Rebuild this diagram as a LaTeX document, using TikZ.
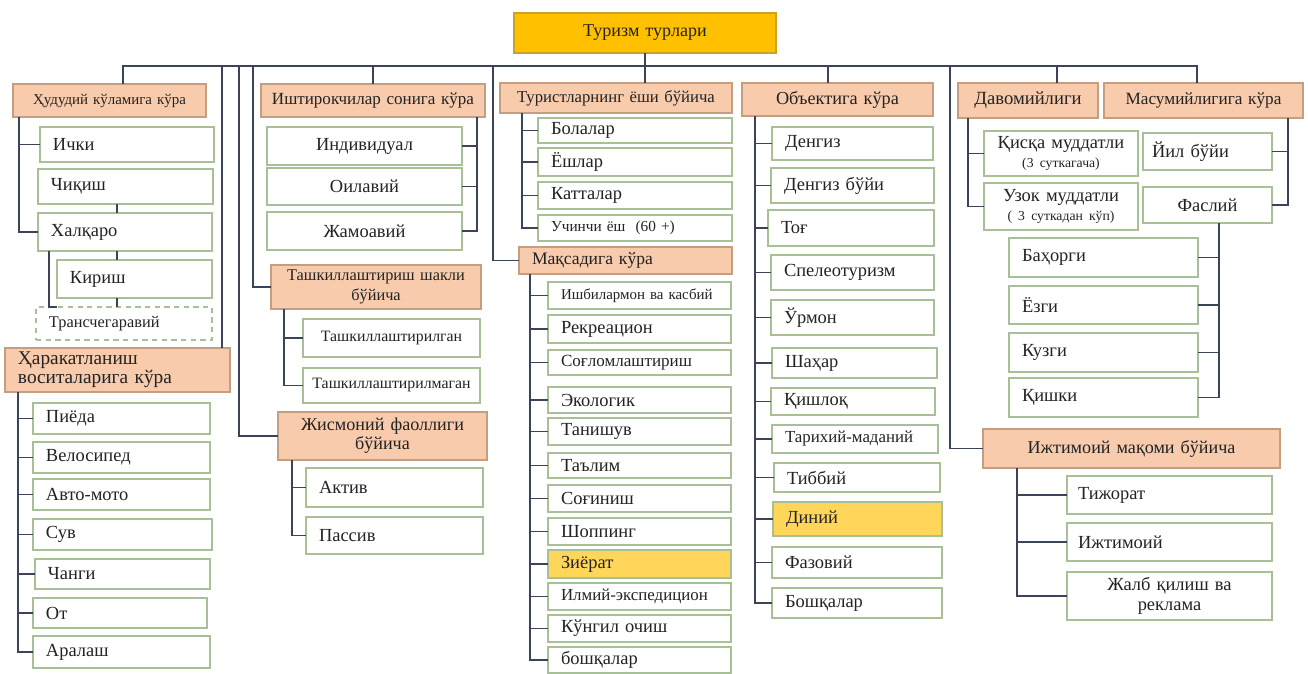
\documentclass[tikz,border=0pt]{standalone}
\usepackage{fontspec}
\setmainfont{Liberation Serif}
\definecolor{topfill}{RGB}{255,192,0}
\definecolor{topdraw}{RGB}{205,160,40}
\definecolor{catfill}{RGB}{247,203,172}
\definecolor{catdraw}{RGB}{196,158,128}
\definecolor{itemdraw}{RGB}{168,192,150}
\definecolor{goldfill}{RGB}{255,214,90}
\definecolor{linkcol}{RGB}{58,68,88}
\definecolor{txt}{RGB}{35,35,35}

\begin{document}
\begin{tikzpicture}[x=0.02cm,y=-0.02cm,
  every node/.style={font=\fontsize{10.5}{11}\selectfont,text=txt,inner ysep=0pt,outer sep=0pt},
  box/.style 2 args={anchor=north west,inner xsep=0.26cm,text width=(#1-26)*0.02cm,minimum height=#2*0.02cm,align=left},
  cbox/.style 2 args={anchor=north west,inner xsep=0.08cm,text width=(#1-8)*0.02cm,minimum height=#2*0.02cm,align=center},
  fs/.style={font=\fontsize{#1}{11}\selectfont},
  top/.style={draw=topdraw,fill=topfill,line width=0.7pt},
  cat/.style={draw=catdraw,fill=catfill,line width=0.7pt,fs=10},
  item/.style={draw=itemdraw,fill=white,line width=0.7pt},
  gold/.style={item,fill=goldfill},
  link/.style={draw=linkcol,line width=1.1pt}]
  \useasboundingbox (0,0) rectangle (1308,673);

  \node[top,cbox={262}{40},fs=10.3] (tur) at (514,13) {Туризм турлари};

  \node[cat,cbox={193}{33},fs=8.5] (hud) at (13,84) {Ҳудудий кўламига кўра};
  \node[item,box={174}{35}] (ichki) at (40,127) {Ички};
  \node[item,box={175}{35}] (chiqish) at (38,169) {Чиқиш};
  \node[item,box={174}{38}] (halqaro) at (38,213) {Халқаро};
  \node[item,box={155}{38}] (kirish) at (57,260) {Кириш};
  \node[item,box={176}{33},fs=9.3,dashed,dash pattern=on 3pt off 2.5pt] (trans) at (36,307) {Трансчегаравий};
  \node[cat,box={225}{44},fs=11] (harak) at (5,348) {Ҳаракатланиш\\воситаларига кўра};
  \node[item,box={177}{31}] (pieda) at (33,403) {Пиёда};
  \node[item,box={177}{31}] (velo) at (33,442) {Велосипед};
  \node[item,box={177}{31}] (avto) at (33,479) {Авто-мото};
  \node[item,box={179}{31}] (suv) at (33,519) {Сув};
  \node[item,box={175}{30}] (changi) at (35,559) {Чанги};
  \node[item,box={174}{30}] (ot) at (33,598) {От};
  \node[item,box={177}{32}] (aralash) at (33,636) {Аралаш};

  \node[cat,cbox={224}{33},fs=9.7] (isht) at (261,84) {Иштирокчилар сонига кўра};
  \node[item,cbox={195}{38}] (indiv) at (267,127) {Индивидуал};
  \node[item,cbox={195}{37}] (oil) at (267,168) {Оилавий};
  \node[item,cbox={195}{38}] (jamo) at (267,212) {Жамоавий};
  \node[cat,cbox={210}{44},fs=9.3] (tashk) at (271,265) {Ташкиллаштириш шакли\\бўйича};
  \node[item,cbox={177}{38},fs=9] (tashk1) at (303,319) {Ташкиллаштирилган};
  \node[item,cbox={177}{35},fs=9] (tashk2) at (303,368) {Ташкиллаштирилмаган};
  \node[cat,cbox={209}{48},fs=10.3] (jism) at (278,412) {Жисмоний фаоллиги\\бўйича};
  \node[item,box={177}{39}] (aktiv) at (306,468) {Актив};
  \node[item,box={177}{37}] (passiv) at (306,517) {Пассив};

  \node[cat,cbox={232}{30},fs=9.5] (yosh) at (500,83) {Туристларнинг ёши бўйича};
  \node[item,box={194}{25}] (bolalar) at (538,118) {Болалар};
  \node[item,box={194}{28}] (yoshlar) at (538,148) {Ёшлар};
  \node[item,box={194}{27}] (kattalar) at (538,182) {Катталар};
  \node[item,box={194}{26},fs=8.7] (uchinchi) at (538,215) {Учинчи ёш~~(60 +)};
  \node[cat,box={213}{27}] (maqsad) at (519,247) {Мақсадига кўра};
  \node[item,box={183}{27},fs=8.5] (ishbil) at (548,282) {Ишбилармон ва касбий};
  \node[item,box={183}{28}] (rekr) at (548,315) {Рекреацион};
  \node[item,box={183}{25},fs=9.7] (soglom) at (548,350) {Соғломлаштириш};
  \node[item,box={183}{26}] (ekol) at (548,387) {Экологик};
  \node[item,box={183}{27}] (tanish) at (548,418) {Танишув};
  \node[item,box={183}{25}] (talim) at (548,453) {Таълим};
  \node[item,box={183}{27}] (sogin) at (548,485) {Соғиниш};
  \node[item,box={183}{27}] (shop) at (548,518) {Шоппинг};
  \node[gold,box={183}{28}] (ziyor) at (548,550) {Зиёрат};
  \node[item,box={183}{27},fs=9.6] (ilmiy) at (548,583) {Илмий-экспедицион};
  \node[item,box={183}{27}] (kungil) at (548,615) {Кўнгил очиш};
  \node[item,box={183}{26}] (boshq) at (548,647) {бошқалар};

  \node[cat,cbox={191}{33},fs=10.4] (obyekt) at (742,83) {Объектига кўра};
  \node[item,box={161}{33}] (dengiz) at (772,127) {Денгиз};
  \node[item,box={163}{35}] (dengizb) at (771,168) {Денгиз бўйи};
  \node[item,box={166}{36}] (tog) at (768,210) {Тоғ};
  \node[item,box={163}{35}] (speleo) at (771,255) {Спелеотуризм};
  \node[item,box={163}{35}] (urmon) at (771,300) {Ўрмон};
  \node[item,box={165}{30}] (shahar) at (772,348) {Шаҳар};
  \node[item,box={164}{27}] (qishloq) at (771,388) {Қишлоқ};
  \node[item,box={166}{28},fs=9.6] (tarix) at (772,425) {Тарихий-маданий};
  \node[item,box={166}{29}] (tibbiy) at (774,463) {Тиббий};
  \node[gold,box={169}{34}] (diniy) at (773,502) {Диний};
  \node[item,box={170}{31}] (fazo) at (772,547) {Фазовий};
  \node[item,box={170}{30}] (boshqa) at (772,588) {Бошқалар};

  \node[cat,cbox={140}{35},fs=10.6] (davom) at (958,83) {Давомийлиги};
  \node[cat,cbox={199}{35},fs=9.8] (mavs) at (1104,83) {Масумийлигига кўра};
  \node[item,cbox={154}{45}] (qisqa) at (984,131) {Қисқа муддатли\\{\fontsize{7.8}{9}\selectfont(3 суткагача)}};
  \node[item,cbox={154}{47}] (uzoq) at (984,183) {Узок муддатли\\{\fontsize{7.8}{9}\selectfont( 3 суткадан кўп)}};
  \node[item,box={129}{37},inner xsep=0.18cm,text width=111*0.02cm] (yil) at (1143,133) {Йил бўйи};
  \node[item,cbox={129}{36}] (fasl) at (1143,187) {Фаслий};
  \node[item,box={189}{39}] (bahor) at (1009,238) {Баҳорги};
  \node[item,box={189}{38}] (yoz) at (1009,286) {Ёзги};
  \node[item,box={189}{39}] (kuz) at (1009,333) {Кузги};
  \node[item,box={189}{39}] (qish) at (1009,378) {Қишки};
  \node[cat,cbox={297}{39},fs=10.3] (ijt) at (983,429) {Ижтимоий мақоми бўйича};
  \node[item,box={205}{38},inner xsep=0.22cm,text width=183*0.02cm] (tijorat) at (1067,476) {Тижорат};
  \node[item,box={205}{38},inner xsep=0.22cm,text width=183*0.02cm] (ijtimoiy) at (1067,523) {Ижтимоий};
  \node[item,cbox={205}{48}] (jalb) at (1067,572) {Жалб қилиш ва\\реклама};

  \coordinate (bus) at (0,66);
  \draw[link] ([xshift=0.27cm]hud.north) |- ([xshift=-0.13cm]mavs.north |- bus) -- ([xshift=-0.13cm]mavs.north);
  \draw[link] (tur.south) -- (tur.south |- yosh.north);
  \draw[link] ([xshift=2.09cm]harak.north) -- ([xshift=2.09cm]harak.north |- bus);
  \draw[link] (jism.west) -| ([xshift=-0.78cm]jism.west |- bus);
  \draw[link] (tashk.west) -| ([xshift=-0.36cm]tashk.west |- bus);
  \draw[link] (isht.north) -- (isht.north |- bus);
  \draw[link] (maqsad.west) -| ([xshift=-0.52cm]maqsad.west |- bus);
  \draw[link] ([xshift=-0.19cm]obyekt.north) -- ([xshift=-0.19cm]obyekt.north |- bus);
  \draw[link] (ijt.west) -| ([xshift=-0.66cm]ijt.west |- bus);
  \draw[link] ([xshift=0.58cm]davom.north) -- ([xshift=0.58cm]davom.north |- bus);

  \coordinate (s1) at ([xshift=0.12cm]hud.south west);
  \draw[link] (s1) |- (halqaro.west) (ichki.west) -- (ichki.west -| s1);
  \draw[link] ([xshift=-0.17cm]chiqish.south) -- ([xshift=-0.17cm]chiqish.south |- halqaro.north);
  \draw[link] ([xshift=-0.16cm]halqaro.south) -- ([xshift=-0.16cm]halqaro.south |- kirish.north);
  \draw[link] ([xshift=-0.35cm]kirish.south) -- ([xshift=-0.35cm]kirish.south |- trans.north);
  \draw[link] ([xshift=0.22cm]halqaro.south west) |- (kirish.west |- trans.north);
  \coordinate (s2) at ([xshift=0.26cm]harak.south west);
  \draw[link] (s2) |- (aralash.west) (pieda.west) -- (pieda.west -| s2)
    (velo.west) -- (velo.west -| s2) (avto.west) -- (avto.west -| s2)
    (suv.west) -- (suv.west -| s2) (changi.west) -- (changi.west -| s2)
    (ot.west) -- (ot.west -| s2);

  \coordinate (s3) at ([xshift=-0.16cm]isht.south east);
  \draw[link] (s3) |- (jamo.east) (indiv.east) -- (indiv.east -| s3) (oil.east) -- (oil.east -| s3);
  \coordinate (s4) at ([xshift=0.26cm]tashk.south west);
  \draw[link] (s4) |- (tashk2.west) (tashk1.west) -- (tashk1.west -| s4);
  \coordinate (s5) at ([xshift=0.28cm]jism.south west);
  \draw[link] (s5) |- (passiv.west) (aktiv.west) -- (aktiv.west -| s5);

  \coordinate (s6) at ([xshift=0.44cm]yosh.south west);
  \draw[link] (s6) |- (uchinchi.west) (bolalar.west) -- (bolalar.west -| s6)
    (yoshlar.west) -- (yoshlar.west -| s6) (kattalar.west) -- (kattalar.west -| s6);
  \coordinate (s7) at ([xshift=0.22cm]maqsad.south west);
  \draw[link] (s7) |- (boshq.west) (ishbil.west) -- (ishbil.west -| s7)
    (rekr.west) -- (rekr.west -| s7) (soglom.west) -- (soglom.west -| s7)
    (ekol.west) -- (ekol.west -| s7) (tanish.west) -- (tanish.west -| s7)
    (talim.west) -- (talim.west -| s7) (sogin.west) -- (sogin.west -| s7)
    (shop.west) -- (shop.west -| s7) (ziyor.west) -- (ziyor.west -| s7)
    (ilmiy.west) -- (ilmiy.west -| s7) (kungil.west) -- (kungil.west -| s7);

  \coordinate (s8) at ([xshift=0.26cm]obyekt.south west);
  \draw[link] (s8) |- (boshqa.west) (dengiz.west) -- (dengiz.west -| s8)
    (dengizb.west) -- (dengizb.west -| s8) (tog.west) -- (tog.west -| s8)
    (speleo.west) -- (speleo.west -| s8) (urmon.west) -- (urmon.west -| s8)
    (shahar.west) -- (shahar.west -| s8) (qishloq.west) -- (qishloq.west -| s8)
    (tarix.west) -- (tarix.west -| s8) (tibbiy.west) -- (tibbiy.west -| s8)
    (diniy.west) -- (diniy.west -| s8) (fazo.west) -- (fazo.west -| s8);

  \coordinate (s9) at ([xshift=0.2cm]davom.south west);
  \draw[link] (s9) |- (uzoq.west) (qisqa.west) -- (qisqa.west -| s9);
  \coordinate (s10) at ([xshift=-0.3cm]mavs.south east);
  \draw[link] (s10) |- (fasl.east) (yil.east) -- (yil.east -| s10);
  \coordinate (s11) at ([xshift=0.23cm]fasl.south);
  \draw[link] (s11) |- (qish.east) (bahor.east) -- (bahor.east -| s11)
    (yoz.east) -- (yoz.east -| s11) (kuz.east) -- (kuz.east -| s11);
  \coordinate (s12) at ([xshift=0.68cm]ijt.south west);
  \draw[link] (s12) |- (jalb.west) (tijorat.west) -- (tijorat.west -| s12)
    (ijtimoiy.west) -- (ijtimoiy.west -| s12);
\end{tikzpicture}
\end{document}
